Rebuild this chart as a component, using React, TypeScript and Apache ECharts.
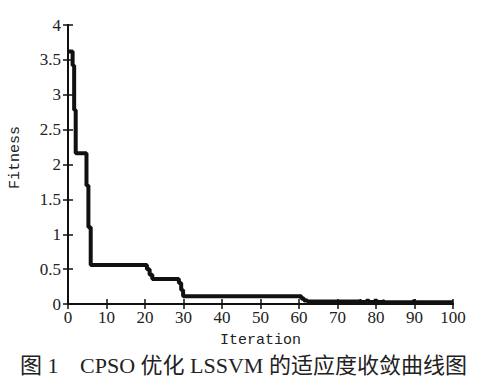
import React, { useEffect, useRef } from "react";
import * as echarts from "echarts";

const iterations = [0, 1.2, 1.6, 2, 4.8, 5.3, 5.9, 20.5, 21.2, 21.9, 28.8, 29.4, 29.9, 60.6, 61.3, 62.2, 75.5, 76.2, 77.5, 78.2, 79.6, 80.3, 81.6, 82.2, 89.6, 90.2, 100];
const fitness = [3.62, 3.42, 2.78, 2.16, 1.7, 1.1, 0.56, 0.5, 0.42, 0.36, 0.3, 0.2, 0.11, 0.08, 0.05, 0.035, 0.045, 0.03, 0.045, 0.03, 0.045, 0.03, 0.04, 0.025, 0.04, 0.025, 0.025];
const xTicks = [0, 10, 20, 30, 40, 50, 60, 70, 80, 90, 100];
const yTicks = [0, 0.5, 1, 1.5, 2, 2.5, 3, 3.5, 4];
const xName = "Iteration";
const yName = "Fitness";
const captionParts = ["图 1", "CPSO 优化 LSSVM 的适应度收敛曲线图"];

export default function App() {
  const ref = useRef<HTMLDivElement>(null);
  useEffect(() => {
    if (!ref.current) return;
    const chart = echarts.init(ref.current, null, { renderer: "svg" });
    const labelFont = { fontFamily: "'Liberation Serif', 'Times New Roman', serif", fontSize: 17, color: "#222" };
    const nameFont = { fontFamily: "'Liberation Mono', 'Courier New', monospace", fontSize: 15, color: "#222" };
    const axisLine = { show: true, lineStyle: { color: "#111", width: 2 } };
    const tick = { show: true, inside: true, length: 5, lineStyle: { color: "#111", width: 1.5 } };
    const xBase = {
      type: "value" as const,
      min: xTicks[0],
      max: xTicks[xTicks.length - 1],
      interval: xTicks[1] - xTicks[0],
      splitLine: { show: false },
      axisLine,
      axisTick: tick,
    };
    const yBase = {
      type: "value" as const,
      min: yTicks[0],
      max: yTicks[yTicks.length - 1],
      interval: yTicks[1] - yTicks[0],
      splitLine: { show: false },
      axisLine,
      axisTick: tick,
    };
    const capFont = "'Liberation Serif', 'Noto Sans CJK SC', serif";
    chart.setOption({
      animation: false,
      backgroundColor: "#fff",
      grid: { left: 67, right: 41, top: 25, bottom: 88, containLabel: false },
      xAxis: [
        {
          ...xBase,
          position: "bottom",
          name: xName,
          nameLocation: "middle",
          nameGap: 29,
          nameTextStyle: nameFont,
          axisLabel: { ...labelFont, margin: 5 },
        },
        { ...xBase, position: "top", axisLabel: { show: false } },
      ],
      yAxis: [
        {
          ...yBase,
          position: "left",
          name: yName,
          nameLocation: "middle",
          nameGap: 45,
          nameTextStyle: { ...nameFont, padding: [0, 0, 0, 14] },
          axisLabel: { ...labelFont, margin: 7 },
        },
        { ...yBase, position: "right", axisLabel: { show: false } },
      ],
      series: [
        {
          type: "line",
          step: "end",
          xAxisIndex: 0,
          yAxisIndex: 0,
          data: iterations.map((x, i) => [x, fitness[i]]),
          showSymbol: false,
          symbol: "none",
          lineStyle: { color: "#111", width: 4 },
          clip: false,
        },
      ],
      graphic: [
        {
          type: "text",
          left: 20,
          top: 354,
          style: { text: captionParts[0], fontFamily: capFont, fontSize: 22, fill: "#222" },
        },
        {
          type: "text",
          left: 80,
          top: 354,
          style: { text: captionParts[1], fontFamily: capFont, fontSize: 22, fill: "#222" },
        },
      ],
    });
    return () => chart.dispose();
  }, []);
  return <div ref={ref} style={{ position: "fixed", left: 0, top: 0, width: 494, height: 392 }} />;
}
